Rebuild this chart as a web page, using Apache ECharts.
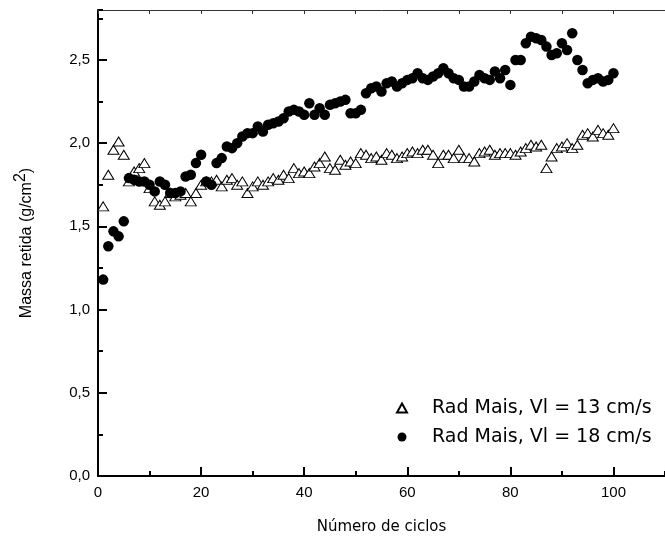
<!DOCTYPE html>
<html>
<head>
<meta charset="utf-8">
<script src="https://cdn.jsdelivr.net/npm/echarts@6/dist/echarts.min.js"></script>
<style>
  html, body { margin: 0; padding: 0; background: #fff; }
  #chart { width: 665px; height: 540px; }
</style>
</head>
<body>
<div id="chart"></div>
<script>
// x categories: cycle numbers 1..100
const cycles = [1,2,3,4,5,6,7,8,9,10,11,12,13,14,15,16,17,18,19,20,
  21,22,23,24,25,26,27,28,29,30,31,32,33,34,35,36,37,38,39,40,
  41,42,43,44,45,46,47,48,49,50,51,52,53,54,55,56,57,58,59,60,
  61,62,63,64,65,66,67,68,69,70,71,72,73,74,75,76,77,78,79,80,
  81,82,83,84,85,86,87,88,89,90,91,92,93,94,95,96,97,98,99,100];

// Rad Mais, Vl = 13 cm/s (open triangles)
const massa13 = [1.62,1.81,1.96,2.01,1.93,1.77,1.83,1.85,1.88,1.73,
  1.65,1.63,1.65,1.70,1.68,1.69,1.70,1.65,1.70,1.75,
  1.77,1.77,1.78,1.74,1.78,1.79,1.75,1.77,1.70,1.74,
  1.77,1.75,1.77,1.79,1.78,1.81,1.79,1.85,1.82,1.83,
  1.82,1.86,1.88,1.92,1.85,1.84,1.90,1.87,1.89,1.88,
  1.94,1.93,1.91,1.92,1.90,1.94,1.93,1.91,1.92,1.94,
  1.95,1.94,1.96,1.96,1.93,1.88,1.93,1.93,1.91,1.96,
  1.91,1.91,1.89,1.94,1.95,1.96,1.93,1.94,1.94,1.94,
  1.93,1.95,1.97,1.99,1.98,1.99,1.85,1.92,1.97,1.98,
  2.00,1.97,1.99,2.05,2.06,2.04,2.08,2.06,2.05,2.09];

// Rad Mais, Vl = 18 cm/s (filled circles)
const massa18 = [1.18,1.38,1.47,1.44,1.53,1.79,1.78,1.77,1.77,1.75,
  1.71,1.77,1.75,1.70,1.70,1.71,1.80,1.81,1.88,1.93,
  1.77,1.75,1.88,1.91,1.98,1.97,2.00,2.04,2.06,2.06,
  2.10,2.07,2.11,2.12,2.13,2.15,2.19,2.20,2.19,2.17,
  2.24,2.17,2.21,2.17,2.23,2.24,2.25,2.26,2.18,2.18,
  2.20,2.30,2.33,2.34,2.31,2.36,2.37,2.34,2.36,2.38,
  2.39,2.42,2.39,2.38,2.40,2.42,2.45,2.42,2.39,2.38,
  2.34,2.34,2.37,2.41,2.39,2.38,2.43,2.39,2.44,2.35,
  2.50,2.50,2.60,2.64,2.63,2.62,2.58,2.53,2.54,2.60,
  2.56,2.66,2.50,2.44,2.36,2.38,2.39,2.37,2.38,2.42];

const seriesNames = ['Rad Mais, Vl = 13 cm/s', 'Rad Mais, Vl = 18 cm/s'];
const xTitle = 'Número de ciclos';
const yTitle = 'Massa retida (g/cm{sup|2})';

const X_MIN = 0, X_MAX = 110, Y_MIN = 0, Y_MAX = 2.8;

function pairs(xs, ys) { return xs.map((x, i) => [x, ys[i]]); }

const chart = echarts.init(document.getElementById('chart'), null, { renderer: 'canvas' });

const tickFont = 'Liberation Sans, Arial, sans-serif';
const textFont = 'DejaVu Sans, Verdana, sans-serif';

chart.setOption({
  animation: false,
  backgroundColor: '#ffffff',
  grid: { left: 98, top: 10, bottom: 62, right: -10, containLabel: false },
  legend: {
    data: [
      { name: seriesNames[0], icon: 'triangle' },
      { name: seriesNames[1], icon: 'circle' }
    ],
    orient: 'vertical',
    left: 391,
    top: 392,
    itemWidth: 10,
    itemHeight: 9,
    itemGap: 7,
    textStyle: { fontFamily: textFont, fontSize: 19, color: '#000', lineHeight: 22, padding: [0, 0, 0, 20] },
    selectedMode: false
  },
  xAxis: [
    {
      type: 'value', position: 'bottom', min: X_MIN, max: X_MAX, interval: 20,
      name: xTitle, nameLocation: 'middle', nameGap: 44,
      nameTextStyle: { fontFamily: textFont, fontSize: 15, color: '#000' },
      axisLine: { show: true, lineStyle: { color: '#000', width: 2 } },
      axisTick: { show: true, inside: true, length: 9, lineStyle: { color: '#000', width: 2 } },
      axisLabel: { show: true, margin: 9, fontFamily: tickFont, fontSize: 15, color: '#000', showMaxLabel: false },
      splitLine: { show: false }
    },
    {
      type: 'value', position: 'bottom', min: X_MIN, max: X_MAX, interval: 10,
      axisLine: { show: false },
      axisTick: { show: true, inside: true, length: 5, lineStyle: { color: '#000', width: 2 } },
      axisLabel: { show: false }, splitLine: { show: false }
    },
    {
      type: 'value', position: 'top', min: X_MIN, max: X_MAX, interval: 10,
      axisLine: { show: true, lineStyle: { color: '#333', width: 1 } },
      axisTick: { show: true, inside: true, length: 4, lineStyle: { color: '#333', width: 1 } },
      axisLabel: { show: false }, splitLine: { show: false }
    }
  ],
  yAxis: [
    {
      type: 'value', position: 'left', min: Y_MIN, max: Y_MAX, interval: 0.5,
      name: yTitle, nameLocation: 'middle', nameGap: 57,
      nameTextStyle: {
        fontFamily: tickFont, fontSize: 16, color: '#000',
        rich: { sup: { fontFamily: tickFont, fontSize: 16, color: '#000', verticalAlign: 'bottom', padding: [0, 0, 12, 0] } }
      },
      axisLine: { show: true, lineStyle: { color: '#000', width: 2 } },
      axisTick: { show: true, inside: true, length: 9, lineStyle: { color: '#000', width: 2 } },
      axisLabel: {
        show: true, margin: 8, fontFamily: tickFont, fontSize: 15, color: '#000', showMaxLabel: false,
        formatter: v => v.toFixed(1).replace('.', ',')
      },
      splitLine: { show: false }
    },
    {
      type: 'value', position: 'left', min: Y_MIN, max: Y_MAX, interval: 0.25,
      axisLine: { show: false },
      axisTick: { show: true, inside: true, length: 5, lineStyle: { color: '#000', width: 2 } },
      axisLabel: { show: false }, splitLine: { show: false }
    }
  ],
  series: [
    {
      name: seriesNames[0], type: 'scatter', xAxisIndex: 0, yAxisIndex: 0,
      symbol: 'triangle', symbolSize: [11, 9],
      itemStyle: { color: '#ffffff', borderColor: '#000', borderWidth: 1, opacity: 1 },
      data: pairs(cycles, massa13), z: 2
    },
    {
      name: seriesNames[1], type: 'scatter', xAxisIndex: 0, yAxisIndex: 0,
      symbol: 'circle', symbolSize: 10.5,
      itemStyle: { color: '#000', borderColor: '#000', borderWidth: 0, opacity: 1 },
      data: pairs(cycles, massa18), z: 3
    }
  ]
});
</script>
</body>
</html>
